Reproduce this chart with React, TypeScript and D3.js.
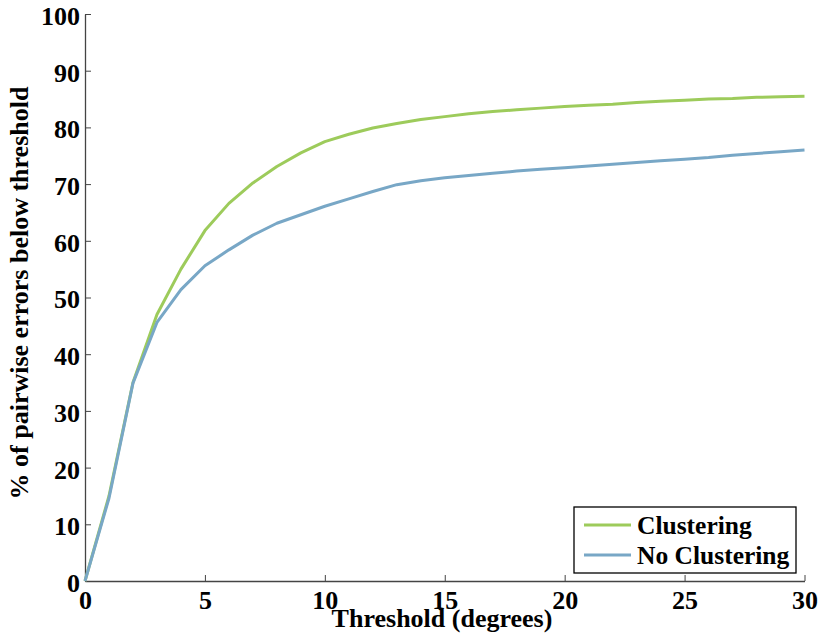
import React, { useEffect, useRef } from "react";
import * as d3 from "d3";

const thresholds = d3.range(0, 31);
const clustering = [0, 15, 35, 47, 55, 61.8, 66.6, 70.2, 73.1, 75.5, 77.5, 78.8, 79.9, 80.7, 81.4, 81.9, 82.4, 82.8, 83.1, 83.4, 83.7, 83.9, 84.1, 84.4, 84.6, 84.8, 85.0, 85.1, 85.3, 85.4, 85.5];
const noClustering = [0, 14.6, 34.9, 45.6, 51.4, 55.6, 58.4, 61.0, 63.1, 64.6, 66.1, 67.4, 68.7, 69.9, 70.6, 71.1, 71.5, 71.9, 72.3, 72.6, 72.9, 73.2, 73.5, 73.8, 74.1, 74.4, 74.7, 75.1, 75.4, 75.7, 76.0];
const xTicks = [0, 5, 10, 15, 20, 25, 30];
const yTicks = [0, 10, 20, 30, 40, 50, 60, 70, 80, 90, 100];
const seriesNames = ["Clustering", "No Clustering"];
const colors = ["#9dcb5b", "#78a7c6"];

const App = () => {
  const ref = useRef<SVGSVGElement>(null);

  useEffect(() => {
    const svg = d3.select(ref.current);
    svg.selectAll("*").remove();

    const margin = { top: 14, left: 85 };
    const font = "'Liberation Serif', 'Times New Roman', serif";

    const x = d3.scaleLinear().domain([0, 30]).range([0, 719.5]);
    const y = d3.scaleLinear().domain([0, 100]).range([567, 0]);

    const g = svg.append("g").attr("transform", `translate(${margin.left},${margin.top})`);

    // axes, ticks pointing inward
    const xAxis = g.append("g")
      .attr("transform", `translate(0,${567})`)
      .call(d3.axisBottom(x).tickValues(xTicks).tickSizeInner(-6).tickSizeOuter(0).tickPadding(9.5));
    const yAxis = g.append("g")
      .call(d3.axisLeft(y).tickValues(yTicks).tickSizeInner(-6).tickSizeOuter(0).tickPadding(5));

    [xAxis, yAxis].forEach((a) => {
      a.select(".domain").attr("stroke", "#444").attr("stroke-width", 1.3);
      a.selectAll(".tick line").attr("stroke", "#444");
      a.selectAll(".tick text")
        .attr("font-family", font)
        .attr("font-weight", "bold")
        .attr("font-size", 26)
        .attr("fill", "#000");
    });
    yAxis.selectAll(".tick text").attr("dy", "0.4em");

    const line = d3.line<number>()
      .x((d, i) => x(thresholds[i]))
      .y((d) => y(d));

    [clustering, noClustering].forEach((s, i) => {
      g.append("path")
        .datum(s)
        .attr("fill", "none")
        .attr("stroke", colors[i])
        .attr("stroke-width", 3)
        .attr("stroke-linejoin", "round")
        .attr("d", line);
    });

    // axis labels
    svg.append("text")
      .attr("x", 442)
      .attr("y", 627)
      .attr("text-anchor", "middle")
      .attr("font-family", font)
      .attr("font-weight", "bold")
      .attr("font-size", 26)
      .text("Threshold (degrees)");

    svg.append("text")
      .attr("transform", `translate(28,293) rotate(-90)`)
      .attr("text-anchor", "middle")
      .attr("font-family", font)
      .attr("font-weight", "bold")
      .attr("font-size", 26)
      .text("% of pairwise errors below threshold");

    // legend
    const legend = svg.append("g").attr("transform", "translate(574,507)");
    legend.append("rect")
      .attr("width", 222)
      .attr("height", 66)
      .attr("fill", "#fff")
      .attr("stroke", "#000")
      .attr("stroke-width", 1.3);
    seriesNames.forEach((name, i) => {
      const yy = 18 + i * 30;
      legend.append("line")
        .attr("x1", 10).attr("x2", 57)
        .attr("y1", yy).attr("y2", yy)
        .attr("stroke", colors[i])
        .attr("stroke-width", 3);
      legend.append("text")
        .attr("x", 63)
        .attr("y", yy + 9)
        .attr("font-family", font)
        .attr("font-weight", "bold")
        .attr("font-size", 25.5)
        .text(name);
    });
  }, []);

  return (
    <div style={{ position: "absolute", left: 0, top: 0 }}>
      <svg ref={ref} width={819} height={641} />
    </div>
  );
};

export default App;
